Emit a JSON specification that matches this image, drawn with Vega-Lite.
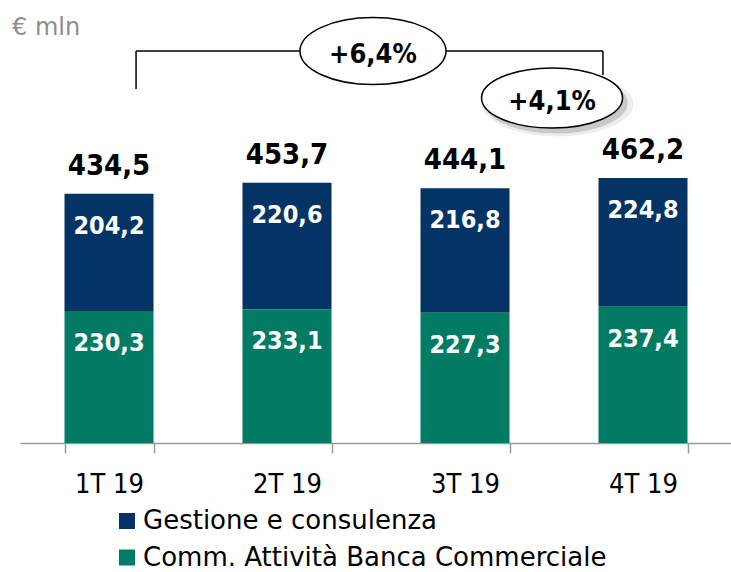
{
  "$schema": "https://vega.github.io/schema/vega-lite/v6.json",
  "width": 712,
  "height": 443,
  "autosize": {"type": "none"},
  "padding": {"left": 20, "top": 0, "right": 0, "bottom": 129},
  "config": {
    "view": {"stroke": null},
    "locale": {"number": {"decimal": ",", "thousands": ".", "grouping": [3], "currency": ["€", ""]}}
  },
  "data": {
    "values": [
      {"q": "1T 19", "series": "Gestione e consulenza", "value": 204.2},
      {"q": "1T 19", "series": "Comm. Attività Banca Commerciale", "value": 230.3},
      {"q": "2T 19", "series": "Gestione e consulenza", "value": 220.6},
      {"q": "2T 19", "series": "Comm. Attività Banca Commerciale", "value": 233.1},
      {"q": "3T 19", "series": "Gestione e consulenza", "value": 216.8},
      {"q": "3T 19", "series": "Comm. Attività Banca Commerciale", "value": 227.3},
      {"q": "4T 19", "series": "Gestione e consulenza", "value": 224.8},
      {"q": "4T 19", "series": "Comm. Attività Banca Commerciale", "value": 237.4}
    ]
  },
  "layer": [
    {
      "layer": [
        {
          "mark": {"type": "bar"},
          "encoding": {
            "x": {
              "field": "q", "type": "nominal", "sort": null,
              "scale": {"paddingInner": 0.5, "paddingOuter": 0.25},
              "axis": {
                "title": null, "domainColor": "#9a9a9a", "domainWidth": 1.5,
                "tickColor": "#9a9a9a", "tickWidth": 1.5, "tickSize": 10, "tickBand": "extent",
                "labelFont": "DejaVu Sans Condensed", "labelFontSize": 27, "labelColor": "black",
                "labelBaseline": "alphabetic", "labelPadding": 39, "labelAngle": 0
              }
            },
            "y": {"field": "value", "type": "quantitative", "stack": "zero", "scale": {"domain": [0, 772.5], "nice": false, "zero": true}, "axis": null},
            "color": {
              "field": "series", "type": "nominal",
              "scale": {"domain": ["Gestione e consulenza", "Comm. Attività Banca Commerciale"], "range": ["#033465", "#017B64"]},
              "legend": {
                "title": null, "orient": "none", "legendX": 94, "legendY": 508, "padding": 0,
                "symbolType": "square", "symbolSize": 256, "symbolStrokeWidth": 0, "symbolOpacity": 1,
                "labelFont": "DejaVu Sans", "labelFontSize": 26, "labelColor": "black", "labelOffset": 3,
                "rowPadding": 10.5, "labelLimit": 700
              }
            },
            "order": {"field": "series", "sort": "ascending"}
          }
        },
        {
          "mark": {"type": "text", "fill": "white", "font": "DejaVu Sans Condensed", "fontWeight": "bold", "fontSize": 25, "baseline": "alphabetic", "dy": 40},
          "encoding": {
            "x": {"field": "q", "type": "nominal", "sort": null},
            "y": {"field": "value", "type": "quantitative", "stack": "zero"},
            "detail": {"field": "series"},
            "order": {"field": "series", "sort": "ascending"},
            "text": {"field": "value", "type": "quantitative", "format": ".1f"}
          }
        },
        {
          "transform": [{"aggregate": [{"op": "sum", "field": "value", "as": "total"}], "groupby": ["q"]}],
          "mark": {"type": "text", "fill": "black", "font": "DejaVu Sans Condensed", "fontWeight": "bold", "fontSize": 29, "baseline": "alphabetic", "dy": -19},
          "encoding": {
            "x": {"field": "q", "type": "nominal", "sort": null},
            "y": {"field": "total", "type": "quantitative"},
            "text": {"field": "total", "type": "quantitative", "format": ".1f"}
          }
        }
      ]
    },
    {
      "data": {"values": [{"note": "annotation"}]},
      "layer": [
        {
          "mark": {"type": "rule", "color": "black", "strokeWidth": 1.5},
          "encoding": {
            "x": {"datum": 0.652, "type": "quantitative", "scale": {"domain": [0, 4], "nice": false}, "axis": null},
            "x2": {"datum": 3.275},
            "y": {"datum": 683.5, "type": "quantitative"}
          }
        },
        {
          "mark": {"type": "rule", "color": "black", "strokeWidth": 1.5},
          "encoding": {
            "x": {"datum": 0.652, "type": "quantitative"},
            "y": {"datum": 683.5, "type": "quantitative"},
            "y2": {"datum": 617.3}
          }
        },
        {
          "mark": {"type": "rule", "color": "black", "strokeWidth": 1.5},
          "encoding": {
            "x": {"datum": 3.275, "type": "quantitative"},
            "y": {"datum": 683.5, "type": "quantitative"},
            "y2": {"datum": 641.7}
          }
        },
        {
          "mark": {"type": "point", "shape": "M-1,0A1,0.426,0,1,1,1,0A1,0.426,0,1,1,-1,0Z", "size": 23000, "filled": true, "fill": "#000000", "opacity": 0.07, "strokeWidth": 0},
          "encoding": {
            "x": {"datum": 3.02, "type": "quantitative"},
            "y": {"datum": 591.0, "type": "quantitative"}
          }
        },
        {
          "mark": {"type": "point", "shape": "M-1,0A1,0.426,0,1,1,1,0A1,0.426,0,1,1,-1,0Z", "size": 20500, "filled": true, "fill": "#000000", "opacity": 0.15, "strokeWidth": 0},
          "encoding": {
            "x": {"datum": 3.012, "type": "quantitative"},
            "y": {"datum": 593.0, "type": "quantitative"}
          }
        },
        {
          "mark": {"type": "point", "shape": "M-1,0A1,0.459,0,1,1,1,0A1,0.459,0,1,1,-1,0Z", "size": 21316, "filled": true, "fill": "white", "stroke": "black", "strokeWidth": 1.5, "opacity": 1},
          "encoding": {
            "x": {"datum": 1.983, "type": "quantitative"},
            "y": {"datum": 683.5, "type": "quantitative"}
          }
        },
        {
          "mark": {"type": "point", "shape": "M-1,0A1,0.426,0,1,1,1,0A1,0.426,0,1,1,-1,0Z", "size": 19881, "filled": true, "fill": "white", "stroke": "black", "strokeWidth": 1.5, "opacity": 1},
          "encoding": {
            "x": {"datum": 2.989, "type": "quantitative"},
            "y": {"datum": 601.6, "type": "quantitative"}
          }
        },
        {
          "mark": {"type": "text", "fill": "black", "font": "DejaVu Sans Condensed", "fontWeight": "bold", "fontSize": 27, "baseline": "alphabetic", "align": "center"},
          "encoding": {
            "x": {"datum": 1.983, "type": "quantitative"},
            "y": {"datum": 662.5, "type": "quantitative"},
            "text": {"value": "+6,4%"}
          }
        },
        {
          "mark": {"type": "text", "fill": "black", "font": "DejaVu Sans Condensed", "fontWeight": "bold", "fontSize": 27, "baseline": "alphabetic", "align": "center"},
          "encoding": {
            "x": {"datum": 2.989, "type": "quantitative"},
            "y": {"datum": 580.6, "type": "quantitative"},
            "text": {"value": "+4,1%"}
          }
        },
        {
          "mark": {"type": "text", "fill": "#8e8e8e", "font": "DejaVu Sans", "fontSize": 24, "baseline": "alphabetic", "align": "left"},
          "encoding": {
            "x": {"datum": -0.045, "type": "quantitative"},
            "y": {"datum": 711.4, "type": "quantitative"},
            "text": {"value": "€ mln"}
          }
        }
      ]
    }
  ],
  "resolve": {"scale": {"x": "independent"}}
}
